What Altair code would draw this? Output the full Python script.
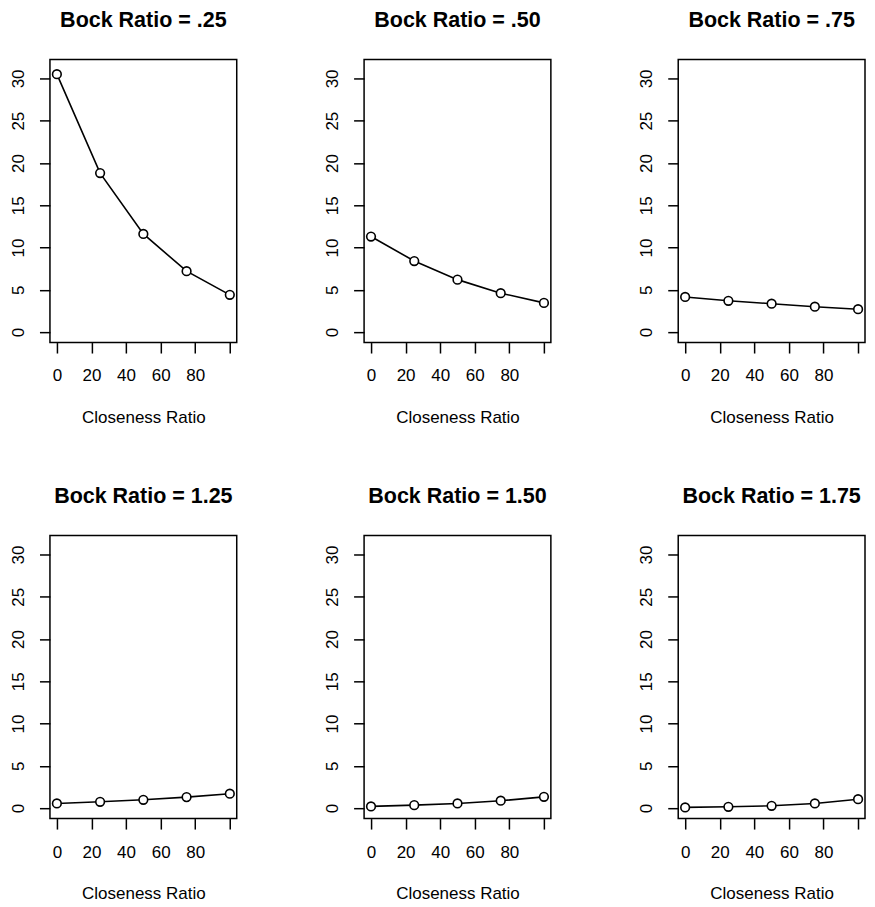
import altair as alt
import pandas as pd

closeness = [0, 25, 50, 75, 100]
bock_titles = ["Bock Ratio = .25", "Bock Ratio = .50", "Bock Ratio = .75",
               "Bock Ratio = 1.25", "Bock Ratio = 1.50", "Bock Ratio = 1.75"]
bock_025 = [30.5, 18.8, 11.6, 7.2, 4.4]
bock_050 = [11.3, 8.4, 6.2, 4.6, 3.45]
bock_075 = [4.15, 3.7, 3.35, 3.0, 2.7]
bock_125 = [0.55, 0.75, 0.98, 1.3, 1.7]
bock_150 = [0.2, 0.35, 0.55, 0.87, 1.33]
bock_175 = [0.08, 0.15, 0.27, 0.55, 1.05]
x_ticks = [0, 20, 40, 60, 80, 100]
y_ticks = [0, 5, 10, 15, 20, 25, 30]

series = [bock_025, bock_050, bock_075, bock_125, bock_150, bock_175]

FONT = "Liberation Sans"


def panel(title, yvals):
    df = pd.DataFrame({"x": closeness, "y": yvals})
    xenc = alt.X(
        "x:Q",
        scale=alt.Scale(domain=[-4, 104], nice=False, zero=False),
        axis=alt.Axis(
            values=x_ticks,
            labelExpr="datum.value == 100 ? '' : datum.label",
            title="Closeness Ratio",
            titleFontWeight="normal",
            titleFontSize=17,
            titleFont=FONT,
            titleColor="black",
            titlePadding=26,
            labelFont=FONT,
            labelFontSize=17,
            labelColor="black",
            labelPadding=15,
            labelBaseline="top",
            labelFlush=False,
            labelOverlap=False,
            tickSize=10.5,
            tickWidth=1.5,
            tickColor="black",
            domain=False,
            grid=False,
        ),
    )
    yenc = alt.Y(
        "y:Q",
        scale=alt.Scale(domain=[-1.24, 32.24], nice=False, zero=False),
        axis=alt.Axis(
            values=y_ticks,
            title=None,
            labelAngle=270,
            labelAlign="center",
            labelBaseline="alphabetic",
            labelFont=FONT,
            labelFontSize=17,
            labelColor="black",
            labelPadding=16,
            labelFlush=False,
            labelOverlap=False,
            tickSize=10.5,
            tickWidth=1.5,
            tickColor="black",
            domain=False,
            grid=False,
        ),
    )
    base = alt.Chart(df).encode(x=xenc, y=yenc)
    line = base.mark_line(color="black", strokeWidth=1.6)
    pts = base.mark_point(shape="circle", filled=False, fill="white", fillOpacity=1,
                          stroke="black", strokeWidth=1.6, size=75, opacity=1)
    return alt.layer(line, pts).properties(
        width=187, height=283.4,
        title=alt.TitleParams(
            text=title, fontSize=21.5, fontWeight="bold", font=FONT, color="black",
            anchor="middle", frame="group", baseline="alphabetic", offset=11.2,
        ),
    )


charts = [panel(t, s) for t, s in zip(bock_titles, series)]

chart = alt.concat(
    *charts, columns=3, bounds="flush",
    spacing={"row": 192.6, "column": 127.5},
).properties(
    padding={"left": 0, "top": 0, "right": 0, "bottom": 0},
    background="white",
).configure_view(
    stroke="black", strokeWidth=1.5, fill="white",
)

chart.save("out.html", embed_options={"renderer": "svg", "actions": False})
